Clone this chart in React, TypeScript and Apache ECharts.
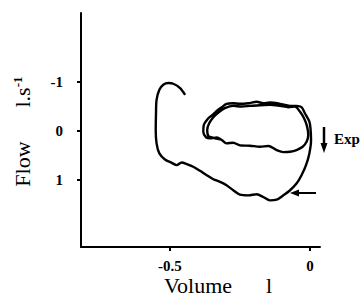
import React, { useEffect, useRef } from "react";
import * as echarts from "echarts";

// Volume (l) and Flow (l/s; positive = expiration, plotted downward)
const outerVolume = [-0.446, -0.464, -0.488, -0.506, -0.524, -0.538, -0.548, -0.55, -0.551, -0.548, -0.538, -0.518, -0.494, -0.476, -0.458, -0.44, -0.417, -0.393, -0.369, -0.345, -0.321, -0.298, -0.274, -0.25, -0.22, -0.19, -0.167, -0.143, -0.119, -0.095, -0.071, -0.048, -0.03, -0.014, -0.002, 0.004, 0.002, -0.002, -0.018, -0.03];
const outerFlow = [-0.742, -0.88, -0.969, -0.983, -0.948, -0.845, -0.639, -0.364, -0.021, 0.254, 0.46, 0.584, 0.653, 0.701, 0.646, 0.68, 0.735, 0.818, 0.907, 0.99, 1.045, 1.113, 1.216, 1.306, 1.32, 1.299, 1.354, 1.423, 1.409, 1.32, 1.216, 1.079, 0.907, 0.701, 0.46, 0.186, -0.055, -0.192, -0.364, -0.488];
const loopVolume = [-0.048, -0.071, -0.107, -0.143, -0.167, -0.19, -0.22, -0.25, -0.274, -0.298, -0.315, -0.333, -0.348, -0.363, -0.379, -0.381, -0.371, -0.357, -0.333, -0.315, -0.298, -0.274, -0.25, -0.214, -0.179, -0.149, -0.119, -0.095, -0.071, -0.048, -0.026, -0.012, -0.006, -0.01, -0.021, -0.036, -0.054, -0.077, -0.107, -0.143, -0.179, -0.214, -0.244, -0.274, -0.304, -0.327, -0.345, -0.36, -0.367, -0.363, -0.345, -0.321];
const loopFlow = [-0.515, -0.515, -0.557, -0.584, -0.57, -0.598, -0.57, -0.557, -0.57, -0.557, -0.488, -0.412, -0.33, -0.261, -0.124, 0.014, 0.131, 0.151, 0.131, 0.186, 0.254, 0.241, 0.296, 0.302, 0.323, 0.309, 0.392, 0.433, 0.426, 0.392, 0.323, 0.22, 0.082, -0.089, -0.261, -0.399, -0.502, -0.488, -0.515, -0.536, -0.529, -0.515, -0.502, -0.515, -0.467, -0.378, -0.282, -0.158, -0.021, 0.103, 0.14, 0.172];

const xTicks = [-0.5, 0];
const yTicks = [-1, 0, 1];

const serif = "'Liberation Serif', 'DejaVu Serif', serif";

export default function App() {
  const ref = useRef<HTMLDivElement>(null);
  useEffect(() => {
    if (!ref.current) return;
    const chart = echarts.init(ref.current, null, { renderer: "svg" });
    const data: number[][] = [];
    outerVolume.forEach((v, i) => data.push([v, outerFlow[i]]));
    loopVolume.forEach((v, i) => data.push([v, loopFlow[i]]));
    chart.setOption({
      animation: false,
      backgroundColor: "#ffffff",
      grid: { left: 81, top: 13, right: 43, bottom: 50 },
      xAxis: {
        type: "value",
        min: -0.818,
        max: 0.036,
        splitLine: { show: false },
        axisLine: { show: true, onZero: false, lineStyle: { color: "#000", width: 2 } },
        axisTick: { show: true, customValues: xTicks, length: 4, lineStyle: { color: "#000", width: 2 } },
        axisLabel: {
          customValues: xTicks,
          margin: 11,
          color: "#000",
          fontFamily: serif,
          fontWeight: "bold",
          fontSize: 15,
          formatter: (v: number) => String(v),
        },
      },
      yAxis: {
        type: "value",
        inverse: true,
        min: -2.42,
        max: 2.38,
        splitLine: { show: false },
        axisLine: { show: true, onZero: false, lineStyle: { color: "#000", width: 2 } },
        axisTick: { show: true, customValues: yTicks, length: 4, lineStyle: { color: "#000", width: 2 } },
        axisLabel: {
          customValues: yTicks,
          margin: 18,
          color: "#000",
          fontFamily: serif,
          fontWeight: "bold",
          fontSize: 15,
          formatter: (v: number) => String(v),
        },
      },
      series: [
        {
          type: "line",
          data,
          showSymbol: false,
          smooth: 0.3,
          lineStyle: { color: "#000", width: 2.4 },
        },
      ],
      graphic: [
        {
          type: "text",
          x: 22,
          y: 164,
          rotation: Math.PI / 2,
          style: { text: "Flow", fill: "#000", font: `22px ${serif}`, align: "center", verticalAlign: "middle" },
        },
        {
          type: "text",
          x: 22,
          y: 92,
          rotation: Math.PI / 2,
          style: {
            text: "l.s{sup|-1}",
            fill: "#000",
            font: `22px ${serif}`,
            align: "center",
            verticalAlign: "middle",
            rich: { sup: { fontSize: 13, fontFamily: serif, fontWeight: "bold", verticalAlign: "top", lineHeight: 12 } },
          },
        },
        {
          type: "text",
          x: 198,
          y: 285,
          style: { text: "Volume", fill: "#000", font: `22px ${serif}`, align: "center", verticalAlign: "middle" },
        },
        {
          type: "text",
          x: 269,
          y: 285,
          style: { text: "l", fill: "#000", font: `22px ${serif}`, align: "center", verticalAlign: "middle" },
        },
        {
          type: "line",
          shape: { x1: 298, y1: 193, x2: 316, y2: 193 },
          style: { stroke: "#000", lineWidth: 2 },
        },
        {
          type: "polygon",
          shape: { points: [[290, 193], [299, 189.5], [299, 196.5]] },
          style: { fill: "#000" },
        },
        {
          type: "line",
          shape: { x1: 324, y1: 127, x2: 324, y2: 145 },
          style: { stroke: "#000", lineWidth: 2.5 },
        },
        {
          type: "polygon",
          shape: { points: [[320.5, 143], [327.5, 143], [324, 153]] },
          style: { fill: "#000" },
        },
        {
          type: "text",
          x: 334,
          y: 139,
          style: { text: "Exp", fill: "#000", font: `bold 15px ${serif}`, align: "left", verticalAlign: "middle" },
        },
      ],
    });
    return () => chart.dispose();
  }, []);
  return <div ref={ref} style={{ width: 363, height: 297, position: "absolute", left: 0, top: 0 }} />;
}
